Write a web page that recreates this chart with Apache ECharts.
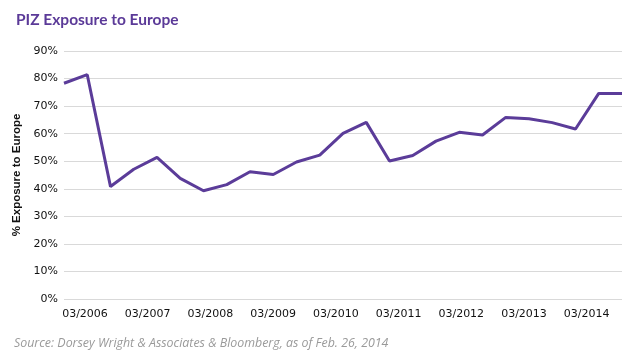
<!DOCTYPE html>
<html>
<head>
<meta charset="utf-8">
<script src="https://cdn.jsdelivr.net/npm/echarts@6/dist/echarts.min.js"></script>
<style>
html,body{margin:0;padding:0;background:#fff;}
#chart{width:644px;height:355px;}
</style>
</head>
<body>
<div id="chart"></div>
<script>
// Observation points (roughly every 4.5 months)
var pointLabels = ['P1','P2','P3','P4','P5','P6','P7','P8','P9','P10','P11','P12','P13','P14','P15','P16','P17','P18','P19','P20','P21','P22','P23','P24','P25'];
var exposure = [78.3, 81.4, 40.8, 47.1, 51.4, 43.8, 39.3, 41.5, 46.2, 45.2, 49.7, 52.2, 60.1, 64.1, 50.1, 52.1, 57.3, 60.5, 59.5, 65.9, 65.4, 64.0, 61.7, 74.6, 74.6];
var yearTicks = [2006, 2007, 2008, 2009, 2010, 2011, 2012, 2013, 2014];
var yearTickLabels = ['03/2006','03/2007','03/2008','03/2009','03/2010','03/2011','03/2012','03/2013','03/2014'];
var yTicks = [0, 10, 20, 30, 40, 50, 60, 70, 80, 90];

var chart = echarts.init(document.getElementById('chart'));
chart.setOption({
  animation: false,
  backgroundColor: '#ffffff',
  title: [{
    text: 'PIZ Exposure to Europe',
    left: 11, top: 7,
    textStyle: {color: '#5b3a98', fontSize: 15.5, fontWeight: 'bold', fontFamily: 'Lato'}
  }, {
    text: 'Source: Dorsey Wright & Associates & Bloomberg, as of Feb. 26, 2014',
    left: 9, top: 332,
    textStyle: {color: '#9a9a9a', fontSize: 12.4, fontWeight: 'normal', fontStyle: 'italic', fontFamily: 'Open Sans'}
  }],
  grid: {left: 64, right: 22, top: 51, bottom: 56, containLabel: false},
  xAxis: [{
    type: 'category',
    data: pointLabels,
    boundaryGap: false,
    axisLine: {show: false},
    axisTick: {show: false},
    axisLabel: {show: false},
    splitLine: {show: false}
  }, {
    type: 'value',
    position: 'bottom',
    min: 2005.665,
    max: 2014.563,
    axisLine: {show: false},
    axisTick: {show: false},
    splitLine: {show: false},
    axisLabel: {
      customValues: yearTicks,
      color: '#111111',
      fontSize: 11,
      fontFamily: 'DejaVu Sans',
      margin: 10,
      formatter: function (v) { return yearTickLabels[yearTicks.indexOf(Math.round(v))]; }
    }
  }],
  yAxis: {
    type: 'value',
    min: 0, max: 90, interval: 10,
    name: '% Exposure to Europe',
    nameLocation: 'middle',
    nameGap: 38,
    nameRotate: 90,
    nameTextStyle: {color: '#111111', fontSize: 11.5, fontWeight: 'bold', fontFamily: 'Liberation Sans'},
    axisLine: {show: false},
    axisTick: {show: false},
    axisLabel: {
      color: '#111111', fontSize: 11, fontFamily: 'DejaVu Sans', margin: 6,
      formatter: function (v) { return v + '%'; }
    },
    splitLine: {lineStyle: {color: '#d9d9d9', width: 1}}
  },
  series: [{
    type: 'line',
    xAxisIndex: 0,
    data: exposure,
    symbol: 'none',
    lineStyle: {color: '#5b3c99', width: 3},
    itemStyle: {color: '#5b3c99'}
  }]
});
</script>
</body>
</html>
